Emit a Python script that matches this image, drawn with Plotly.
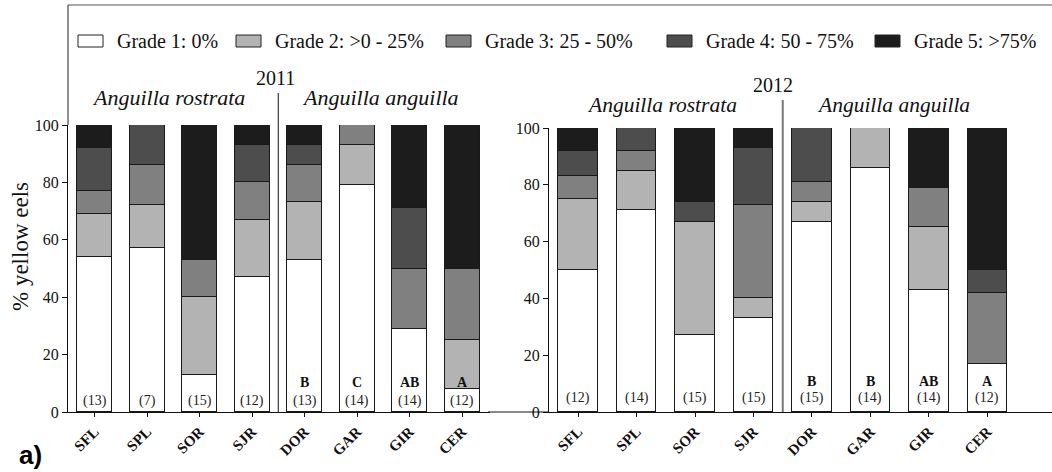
import plotly.graph_objects as go

# Sites (x categories), grade classes and their fills
sites = ["SFL", "SPL", "SOR", "SJR", "DOR", "GAR", "GIR", "CER"]
grades = ["Grade 1: 0%", "Grade 2: >0 - 25%", "Grade 3: 25 - 50%",
          "Grade 4: 50 - 75%", "Grade 5: >75%"]
grade_colors = ["#ffffff", "#b3b3b3", "#808080", "#4d4d4d", "#1c1c1c"]

# % of yellow eels in each grade, per site (rows = grades 1..5)
pct_2011 = [
    [54, 57, 13, 47, 53, 79, 29, 8],
    [15, 15, 27, 20, 20, 14, 0, 17],
    [8, 14, 13, 13, 13, 7, 21, 25],
    [15, 14, 0, 13, 7, 0, 21, 0],
    [8, 0, 47, 7, 7, 0, 29, 50],
]
pct_2012 = [
    [50, 71, 27, 33, 67, 86, 43, 17],
    [25, 14, 40, 7, 7, 14, 22, 0],
    [8, 7, 0, 33, 7, 0, 14, 25],
    [9, 8, 7, 20, 19, 0, 0, 8],
    [8, 0, 26, 7, 0, 0, 21, 50],
]
n_2011 = [13, 7, 15, 12, 13, 14, 14, 12]
n_2012 = [12, 14, 15, 15, 15, 14, 14, 12]
letters_2011 = ["", "", "", "", "B", "C", "AB", "A"]
letters_2012 = ["", "", "", "", "B", "B", "AB", "A"]

W, H = 1052, 472
SERIF = "Liberation Serif, Times New Roman, serif"


def fx(px):
    return px / W


def fy(py):
    return 1 - py / H


fig = go.Figure()

for g in range(5):
    fig.add_trace(go.Bar(
        x=sites, y=pct_2011[g], xaxis="x", yaxis="y", width=0.667,
        marker=dict(color=grade_colors[g], line=dict(color="#1a1a1a", width=1)),
        name=grades[g], showlegend=False, hoverinfo="skip"))
    fig.add_trace(go.Bar(
        x=sites, y=pct_2012[g], xaxis="x2", yaxis="y2", width=0.675,
        marker=dict(color=grade_colors[g], line=dict(color="#1a1a1a", width=1)),
        name=grades[g], showlegend=False, hoverinfo="skip"))

annotations = []
# sample sizes and significance letters inside the bars
for i, s in enumerate(sites):
    annotations.append(dict(x=s, y=4.0, xref="x", yref="y", text=f"({n_2011[i]})",
                            showarrow=False, font=dict(family=SERIF, size=14, color="#222")))
    annotations.append(dict(x=s, y=4.9, xref="x2", yref="y2", text=f"({n_2012[i]})",
                            showarrow=False, font=dict(family=SERIF, size=14, color="#222")))
    if letters_2011[i]:
        annotations.append(dict(x=s, y=10.3, xref="x", yref="y", text=letters_2011[i],
                                showarrow=False,
                                font=dict(family=SERIF, size=14, color="#111", weight="bold")))
    if letters_2012[i]:
        annotations.append(dict(x=s, y=10.9, xref="x2", yref="y2", text=letters_2012[i],
                                showarrow=False,
                                font=dict(family=SERIF, size=14, color="#111", weight="bold")))


# panel headings and free labels
def label(text, px, py, size=21, italic=False, **kw):
    t = f"<i>{text}</i>" if italic else text
    opts = dict(x=fx(px), y=fy(py), xref="paper", yref="paper", text=t,
                showarrow=False, xanchor="center", yanchor="middle",
                font=dict(family=SERIF, size=size, color="#111"))
    opts.update(kw)
    annotations.append(opts)


label("2011", 275, 78, size=20)
label("Anguilla rostrata", 168, 97, size=22, italic=True)
label("Anguilla anguilla", 380, 97, size=22, italic=True)
label("2012", 773, 85, size=20)
label("Anguilla rostrata", 662, 105, size=21.5, italic=True)
label("Anguilla anguilla", 893, 105, size=21.5, italic=True)
label("% yellow eels", 20, 247, size=23, textangle=-90)
label("<b>a)</b>", 30, 455,
      font=dict(family="Liberation Sans, Arial, sans-serif", size=26, color="#000"))

shapes = []
# custom legend: wide swatches with labels
legend_x = [78, 236, 446, 667, 875]
for g in range(5):
    x0 = legend_x[g]
    shapes.append(dict(type="rect", xref="paper", yref="paper",
                       x0=fx(x0), x1=fx(x0 + 25), y0=fy(47), y1=fy(35),
                       fillcolor=grade_colors[g], line=dict(color="#222", width=1)))
    label(grades[g], x0 + 37, 41, size=20, xanchor="left")

# outer frame (top and left)
shapes.append(dict(type="line", xref="paper", yref="paper", x0=fx(68), x1=1,
                   y0=fy(5), y1=fy(5), line=dict(color="#555", width=1.2)))
shapes.append(dict(type="line", xref="paper", yref="paper", x0=fx(68), x1=fx(68),
                   y0=fy(5), y1=fy(125), line=dict(color="#222", width=1)))
# species dividers
shapes.append(dict(type="line", xref="x", yref="paper", x0=3.5, x1=3.5,
                   y0=fy(412), y1=fy(93), line=dict(color="#111", width=1)))
shapes.append(dict(type="line", xref="x2", yref="paper", x0=3.5, x1=3.5,
                   y0=fy(412), y1=fy(100), line=dict(color="#777", width=2)))
# baseline of the second panel runs left of its y axis
shapes.append(dict(type="line", xref="paper", yref="paper", x0=fx(488), x1=fx(549),
                   y0=fy(412), y1=fy(412), line=dict(color="#111", width=1)))

axis_common = dict(type="category", showline=True, linecolor="#111", linewidth=1,
                   ticks="outside", ticklen=4, tickcolor="#111", tickangle=-45,
                   tickfont=dict(family=SERIF, size=15, color="#111", weight="bold"),
                   showgrid=False, zeroline=False, fixedrange=True, automargin=False)
yaxis_common = dict(range=[0, 100], tickvals=[0, 20, 40, 60, 80, 100], showline=True,
                    linecolor="#111", linewidth=1, ticks="outside", ticklen=5,
                    tickcolor="#111", tickfont=dict(family=SERIF, size=16, color="#111"),
                    showgrid=False, zeroline=False, fixedrange=True, automargin=False)

fig.update_layout(
    template="none",
    width=W, height=H, margin=dict(l=0, r=0, t=0, b=0, pad=0), autosize=False,
    paper_bgcolor="white", plot_bgcolor="white", barmode="stack", bargap=0,
    showlegend=False,
    xaxis=dict(domain=[fx(68), fx(490)], range=[-0.505, 7.533], anchor="y", **axis_common),
    yaxis=dict(domain=[fy(412), fy(125)], anchor="x", **yaxis_common),
    xaxis2=dict(domain=[fx(549), 1], range=[-0.496, 8.103], anchor="y2", **axis_common),
    yaxis2=dict(domain=[fy(412), fy(128)], anchor="x2", **yaxis_common),
    annotations=annotations, shapes=shapes,
)

fig.write_html("out.html")
